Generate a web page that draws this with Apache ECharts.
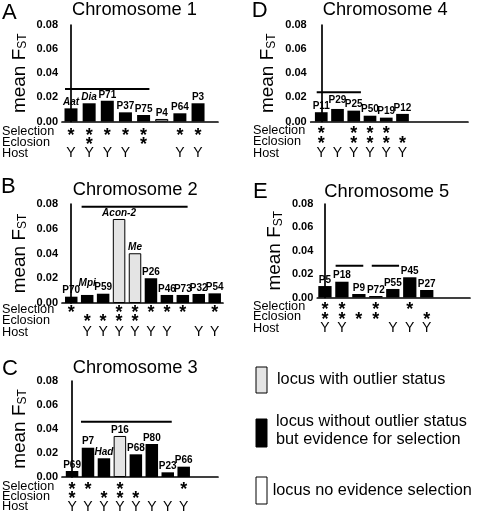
<!DOCTYPE html>
<html><head><meta charset="utf-8">
<script src="https://cdn.jsdelivr.net/npm/echarts@6/dist/echarts.min.js"></script>
<style>html,body{margin:0;padding:0;background:#fff}#c{width:479px;height:514px}</style>
</head><body><div id="c"></div>
<script>
// ---------- DATA ----------
const yTicks = [0, 0.02, 0.04, 0.06, 0.08];

const namesA  = ['Aat','Dia','P71','P37','P75','P4','P64','P3'];
const valuesA = [0.0109,0.0151,0.0172,0.0076,0.0054,0.0021,0.0068,0.0151];
const statusA = ['sel','sel','sel','sel','sel','none','sel','sel'];
const selA  = [1,1,1,1,1,0,1,1];
const eclA  = [0,1,0,0,1,0,0,0];
const hostA = [1,1,1,1,0,0,1,1];
const linesA = [[-0.33, 4.32, 0.0269]];

const namesB  = ['P70','Mpi','P59','Acon-2','Me','P26','P46','P73','P32','P54'];
const valuesB = [0.0051,0.0065,0.0075,0.0679,0.0402,0.0200,0.0065,0.0065,0.0073,0.0078];
const statusB = ['sel','sel','sel','out','out','sel','sel','sel','sel','sel'];
const selB  = [1,0,0,1,1,1,1,1,0,1];
const eclB  = [0,1,1,1,1,0,0,0,0,0];
const hostB = [0,1,1,1,1,1,1,0,1,1];
const linesB = [[0.65, 7.30, 0.0778]];

const namesC  = ['P69','P7','Had','P16','P68','P80','P23','P66'];
const valuesC = [0.0050,0.0244,0.0156,0.0342,0.0189,0.0275,0.0039,0.0086];
const statusC = ['sel','sel','sel','out','sel','sel','sel','sel'];
const selC  = [1,1,0,1,0,0,0,1];
const eclC  = [1,0,1,1,1,0,0,0];
const hostC = [1,1,1,1,1,1,1,1];
const linesC = [[0.56, 6.25, 0.0461]];

const namesD  = ['P11','P29','P25','P50','P19','P12'];
const valuesD = [0.0077,0.0104,0.0090,0.0048,0.0032,0.0063];
const statusD = ['sel','sel','sel','sel','sel','sel'];
const selD  = [1,0,1,1,1,0];
const eclD  = [1,0,1,1,1,1];
const hostD = [1,1,1,1,1,1];
const linesD = [[-0.28, 2.44, 0.0243]];

const namesE  = ['P5','P18','P9','P72','P55','P45','P27'];
const valuesE = [0.0098,0.0135,0.0030,0.0013,0.0073,0.0173,0.0064];
const statusE = ['sel','sel','sel','sel','sel','sel','sel'];
const selE  = [1,1,0,1,0,1,0];
const eclE  = [1,1,1,1,0,0,1];
const hostE = [1,1,0,0,1,1,1];
const linesE = [[0.63, 2.26, 0.0272], [2.76, 4.37, 0.0272]];

const italicNames = ['Aat','Dia','Mpi','Acon-2','Me','Had'];
const rowTitles = ['Selection','Eclosion','Host'];
const legendTexts = ['locus with outlier status', 'locus without outlier status\nbut evidence for selection', 'locus no evidence selection'];

// ---------- LAYOUT / STYLE ----------
const FONT = '"Liberation Sans", Arial, Helvetica, sans-serif';
const fillOf = {sel: '#000000', out: '#e4e4e4', none: '#ffffff'};

const panels = [
  {letter:'A', title:'Chromosome 1', names:namesA, values:valuesA, status:statusA, sel:selA, ecl:eclA, host:hostA, lines:linesA,
   grid:{left:62, top:25, width:156, height:96.5}, xr:[-0.496, 8.10], barW:13,
   rowOff:[9.5, 18.5, 32], rowY:[131.7,142.3,153.7], rowX:2, titleX:72, titleY:10, letterX:2, letterY:12.5, raise:{}},
  {letter:'B', title:'Chromosome 2', names:namesB, values:valuesB, status:statusB, sel:selB, ecl:eclB, host:hostB, lines:linesB,
   grid:{left:62, top:204, width:161, height:99}, xr:[-0.58, 9.52], barW:12.5,
   rowOff:[5.5, 14, 29.5], rowY:[309.3,320.7,332.7], rowX:2, titleX:72.7, titleY:190, letterX:1, letterY:186.5, raise:{Mpi:6}},
  {letter:'C', title:'Chromosome 3', names:namesC, values:valuesC, status:statusC, sel:selC, ecl:eclC, host:hostC, lines:linesC,
   grid:{left:62, top:381, width:156, height:96}, xr:[-0.63, 9.15], barW:12.5,
   rowOff:[8, 17, 29.7], rowY:[486.7,496.7,506.7], rowX:2, titleX:72.7, titleY:368, letterX:2, letterY:369, raise:{}},
  {letter:'D', title:'Chromosome 4', names:namesD, values:valuesD, status:statusD, sel:selD, ecl:eclD, host:hostD, lines:linesD,
   grid:{left:310.7, top:25, width:157.3, height:96.5}, xr:[-0.65, 9.03], barW:12.7,
   rowOff:[8, 18, 32], rowY:[130,141.7,153.3], rowX:253, titleX:322.7, titleY:9.5, letterX:251.7, letterY:10.5, raise:{P29:3}},
  {letter:'E', title:'Chromosome 5', names:namesE, values:valuesE, status:statusE, sel:selE, ecl:eclE, host:hostE, lines:linesE,
   grid:{left:317.3, top:204, width:152.7, height:93.5}, xr:[-0.45, 8.55], barW:13.3,
   rowOff:[7.5, 18, 31], rowY:[306.7,316.7,328.3], rowX:253, titleX:324.3, titleY:191.5, letterX:253, letterY:191.5, raise:{}}
];

const grids = [], xAxes = [], yAxes = [], series = [], graphics = [];

function txt(x, y, text, size, opts) {
  return Object.assign({type:'text', x:x, y:y, silent:true, style:Object.assign({
    text:text, fontSize:size, fontFamily:FONT, fill:'#000', align:'left', verticalAlign:'middle'}, opts || {})});
}

panels.forEach((p, pi) => {
  grids.push(Object.assign({containLabel:false}, p.grid));
  xAxes.push({type:'value', gridIndex:pi, min:p.xr[0], max:p.xr[1],
    axisLine:{show:true, onZero:false, lineStyle:{color:'#000', width:1.7}},
    axisTick:{show:false}, axisLabel:{show:false}, splitLine:{show:false}});
  yAxes.push({type:'value', gridIndex:pi, min:0, max:0.08, interval:0.02,
    name:'mean F{s|ST}', nameLocation:'middle', nameRotate:90, nameGap:33,
    nameTextStyle:{fontSize:19, fontFamily:FONT, color:'#000',
      rich:{s:{fontSize:12, fontFamily:FONT, color:'#000', verticalAlign:'bottom'}}},
    axisLine:{show:true, lineStyle:{color:'#000', width:1.7}},
    axisTick:{show:false}, splitLine:{show:false},
    axisLabel:{margin:4, fontSize:11, fontWeight:'bold', fontFamily:FONT, color:'#000',
      formatter: v => yTicks.some(t => Math.abs(t - v) < 1e-9) ? v.toFixed(2) : ''}});

  // bars
  series.push({type:'bar', xAxisIndex:pi, yAxisIndex:pi, barWidth:p.barW, silent:true, animation:false,
    data: p.values.map((v, i) => {
      const st = p.status[i];
      return {
        value:[i, v],
        itemStyle:{color:fillOf[st], borderColor:'#000', borderWidth: st === 'sel' ? 0 : 1},
        label:{show:true, position:'top', distance: 1 + (p.raise[p.names[i]] || 0),
          formatter: p.names[i], fontSize:10, fontWeight:'bold', fontFamily:FONT, color:'#000',
          fontStyle: italicNames.indexOf(p.names[i]) >= 0 ? 'italic' : 'normal'}
      };
    })});

  // horizontal lines
  p.lines.forEach(l => {
    series.push({type:'line', xAxisIndex:pi, yAxisIndex:pi, symbol:'none', silent:true, animation:false,
      lineStyle:{color:'#000', width:2}, data:[[l[0], l[2]], [l[1], l[2]]]});
  });

  // stars and Y marks beneath each locus
  series.push({type:'custom', xAxisIndex:pi, yAxisIndex:pi, clip:false, silent:true, animation:false,
    data: p.names.map((n, i) => [i, 0]),
    encode:{x:0, y:1},
    renderItem: function(params, api) {
      const i = api.value(0);
      const c = api.coord([i, 0]);
      const ch = [];
      const star = (yy) => ({type:'text', style:{text:'*', x:c[0], y:yy + 5, align:'center', verticalAlign:'middle',
        fontSize:18, fontWeight:'bold', fontFamily:FONT, fill:'#000'}});
      if (p.sel[i]) ch.push(star(c[1] + p.rowOff[0]));
      if (p.ecl[i]) ch.push(star(c[1] + p.rowOff[1]));
      if (p.host[i]) ch.push({type:'text', style:{text:'Y', x:c[0], y:c[1] + p.rowOff[2], align:'center', verticalAlign:'middle',
        fontSize:14, fontFamily:FONT, fill:'#000'}});
      return {type:'group', children:ch};
    }});

  // titles, letters, row headers
  graphics.push(txt(p.titleX, p.titleY, p.title, 18.3));
  graphics.push(txt(p.letterX, p.letterY, p.letter, 22));
  rowTitles.forEach((r, k) => graphics.push(txt(p.rowX, p.rowY[k], r, 12.7)));
});

// legend
const legBoxes = [[367, 26, 'out'], [419, 28, 'sel'], [477, 27, 'none']];
legBoxes.forEach(b => graphics.push({type:'rect', silent:true, shape:{x:256, y:b[0], width:11, height:b[1]},
  style:{fill:fillOf[b[2]], stroke:'#000', lineWidth:1}}));
graphics.push(txt(277, 380, legendTexts[0], 16.3));
graphics.push(txt(276, 430.5, legendTexts[1], 16.3, {lineHeight:17.6}));
graphics.push(txt(272.7, 491, legendTexts[2], 16.3));

const chart = echarts.init(document.getElementById('c'), null, {renderer:'canvas'});
chart.setOption({animation:false, backgroundColor:'#fff', grid:grids, xAxis:xAxes, yAxis:yAxes, series:series, graphic:graphics});
</script></body></html>
